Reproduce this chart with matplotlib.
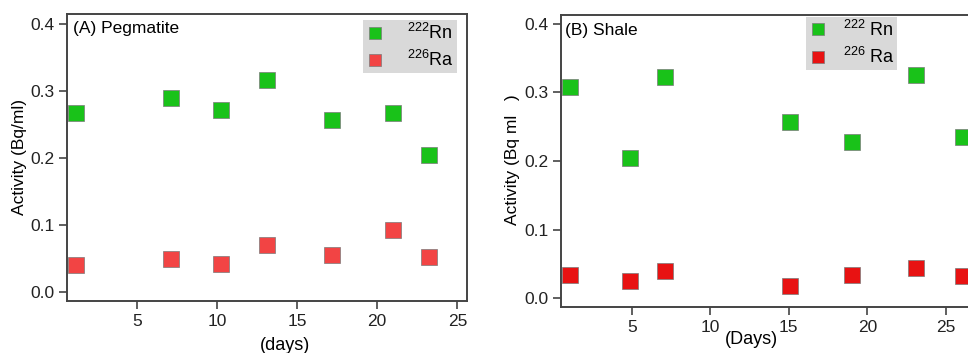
import numpy as np
import matplotlib.pyplot as plt

plt.rcParams['font.family'] = ['Liberation Sans', 'DejaVu Sans']
plt.rcParams['mathtext.fontset'] = 'custom'
plt.rcParams['mathtext.rm'] = 'Liberation Sans'
plt.rcParams['mathtext.it'] = 'Liberation Sans'

# (A) Pegmatite
peg_days = [1.2, 7.1, 10.25, 13.1, 17.2, 21.0, 23.2]
peg_rn = [0.268, 0.290, 0.272, 0.316, 0.257, 0.268, 0.205]
peg_ra = [0.041, 0.050, 0.042, 0.071, 0.056, 0.093, 0.053]

# (B) Shale
sha_days = [1.05, 4.85, 7.1, 15.05, 19.0, 23.1, 26.1]
sha_rn = [0.308, 0.204, 0.322, 0.257, 0.227, 0.325, 0.235]
sha_ra = [0.034, 0.025, 0.039, 0.017, 0.033, 0.044, 0.032]

yticks = [0.0, 0.1, 0.2, 0.3, 0.4]
xticks = [5, 10, 15, 20, 25]

green = '#19c219'
red_a = '#f24444'
red_b = '#e81212'
edge = '#7a7a7a'
spine_c = '#444444'

fig = plt.figure(figsize=(9.68, 3.53), dpi=100)
ax1 = fig.add_axes([0.0692, 0.1473, 0.4132, 0.813])
ax2 = fig.add_axes([0.5795, 0.1303, 0.438, 0.8272])


def style(ax):
    for s in ax.spines.values():
        s.set_color(spine_c)
        s.set_linewidth(1.4)
    ax.tick_params(direction='out', length=6, width=1.2, color=spine_c,
                   labelsize=12.5, labelcolor='#222222', pad=3,
                   top=False, right=False)
    ax.set_yticks(yticks)
    ax.set_yticklabels([f'{v:.1f}' for v in yticks])
    ax.set_xticks(xticks)


ms = 11.5
ax1.plot(peg_days, peg_rn, 's', color=green, ms=ms, mec=edge, mew=0.5, label=r'$^{222}$Rn')
ax1.plot(peg_days, peg_ra, 's', color=red_a, ms=ms, mec=edge, mew=0.5, label=r'$^{226}$Ra')
ax1.set_xlim(0.64, 25.6)
ax1.set_ylim(-0.013, 0.415)
style(ax1)
ax1.text(0.014, 0.948, '(A) Pegmatite', transform=ax1.transAxes, fontsize=12.5, va='center')

ax2.plot(sha_days, sha_rn, 's', color=green, ms=ms, mec=edge, mew=0.5, label=r'$^{222}$ Rn')
ax2.plot(sha_days, sha_ra, 's', color=red_b, ms=ms, mec=edge, mew=0.5, label=r'$^{226}$ Ra')
ax2.set_xlim(0.48, 27.5)
ax2.set_ylim(-0.013, 0.413)
style(ax2)
fig.text(565 / 968, 1 - 30 / 353, '(B) Shale', fontsize=12.5, va='center')

for ax, pos, tp in [(ax1, (0.375, 0.943), 1.3), (ax2, (0.8326, 0.952), 0.9)]:
    leg = ax.legend(loc='upper left', bbox_to_anchor=pos, bbox_transform=fig.transFigure,
                    borderaxespad=0, fontsize=13, markerscale=0.72, handlelength=1.0,
                    handletextpad=tp, labelspacing=0.4, borderpad=0.15,
                    fancybox=False, framealpha=1)
    leg.get_frame().set_facecolor('#d9d9d9')
    leg.get_frame().set_edgecolor('none')

fig.text(20 / 968, 1 - 157 / 353, 'Activity (Bq/ml)', rotation=90, fontsize=12.5,
         ha='center', va='center')
fig.text(513 / 968, 1 - 160 / 353, 'Activity (Bq ml   )', rotation=90, fontsize=12.5,
         ha='center', va='center')
fig.text(285 / 968, 1 - 345 / 353, '(days)', fontsize=13, ha='center', va='center')
fig.text(751 / 968, 1 - 340 / 353, '(Days)', fontsize=13, ha='center', va='center')

fig.savefig('out.png', dpi=100)
